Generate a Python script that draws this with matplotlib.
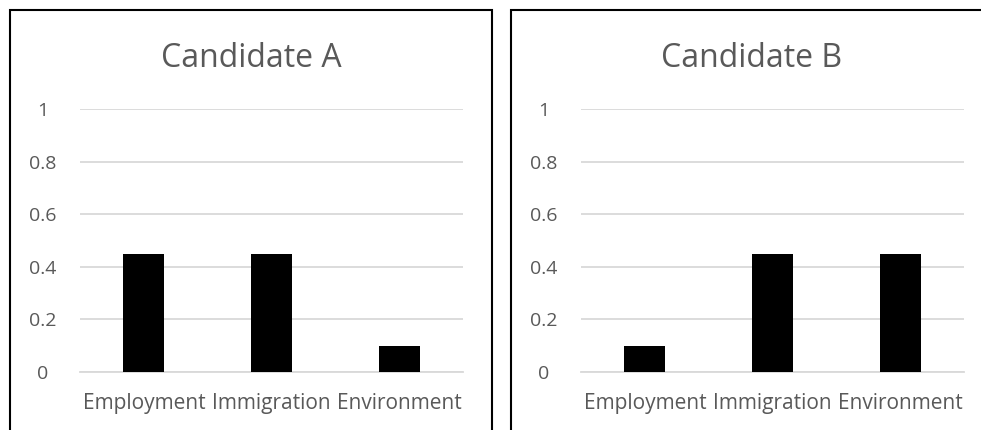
import matplotlib.pyplot as plt
from matplotlib.patches import Rectangle

# chart data
categories = ['Employment', 'Immigration', 'Environment']
candidate_a = [0.45, 0.45, 0.10]
candidate_b = [0.10, 0.45, 0.45]
panel_titles = ['Candidate A', 'Candidate B']
y_ticks = [0, 0.2, 0.4, 0.6, 0.8, 1]
y_tick_labels = ['0', '0.2', '0.4', '0.6', '0.8', '1']

W, H = 981, 430
TEXT_GRAY = '#595959'
GRID_GRAY = '#d9d9d9'

plt.rcParams['font.family'] = ['Open Sans', 'DejaVu Sans']

fig = plt.figure(figsize=(W / 100, H / 100), dpi=100)


def px_box(x0, y0, x1, y1):
    """pixel box (top-left origin) -> figure fraction rect"""
    return [x0 / W, 1 - y1 / H, (x1 - x0) / W, (y1 - y0) / H]


def draw_panel(offset, title, values):
    # outer chart border
    fig.patches.append(Rectangle(((10 + offset) / W, -0.05), 482 / W, 1 - 10 / H + 0.05,
                                 transform=fig.transFigure, fill=False,
                                 edgecolor='black', linewidth=1.5))
    fig.text((251 + offset) / W, 1 - 67 / H, title, ha='center', va='baseline',
             fontsize=23, color=TEXT_GRAY)

    ax = fig.add_axes(px_box(80 + offset, 109, 463 + offset, 372))
    x = range(len(categories))
    ax.bar(x, values, width=0.32, color='black', linewidth=0, zorder=3)
    ax.set_xlim(-0.5, len(categories) - 0.5)
    ax.set_ylim(0, 1)
    ax.set_yticks(y_ticks)
    ax.set_yticklabels(y_tick_labels, ha='center')
    ax.set_xticks(list(x))
    ax.set_xticklabels(categories)
    ax.tick_params(axis='y', length=0, pad=27, labelsize=14, labelcolor=TEXT_GRAY)
    ax.tick_params(axis='x', length=0, pad=15, labelsize=15, labelcolor=TEXT_GRAY)
    ax.grid(axis='y', color=GRID_GRAY, linewidth=1.3, zorder=0)
    for side in ['top', 'right', 'left']:
        ax.spines[side].set_visible(False)
    ax.spines['bottom'].set_color(GRID_GRAY)
    ax.spines['bottom'].set_linewidth(1.3)
    ax.set_facecolor('none')
    return ax


draw_panel(0, panel_titles[0], candidate_a)
draw_panel(501, panel_titles[1], candidate_b)

fig.savefig('out.png', dpi=100, facecolor='white')
